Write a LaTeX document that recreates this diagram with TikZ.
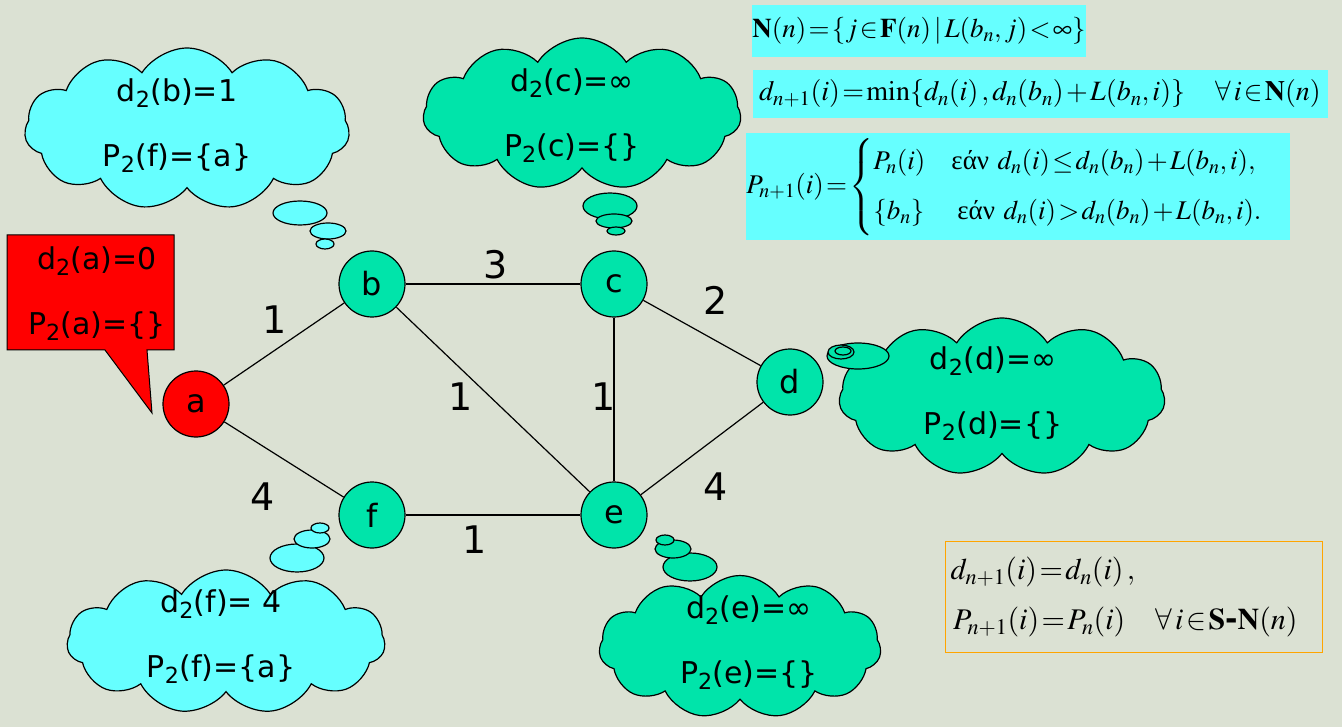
\documentclass[tikz,border=0pt]{standalone}
\usepackage{amsmath}
\usepackage{mathptmx}
\usepackage{fontspec}
\setmainfont{DejaVu Sans}
\newfontfamily\grk{Liberation Serif}
\usetikzlibrary{shapes.symbols}
\definecolor{bgc}{RGB}{219,225,211}
\definecolor{cyanc}{RGB}{102,255,255}
\definecolor{greenc}{RGB}{0,228,170}
\definecolor{redc}{RGB}{255,0,0}
\definecolor{orangec}{RGB}{255,165,0}
\newcommand{\tightmath}{\thickmuskip=1.5mu plus 1mu\medmuskip=1.5mu\thinmuskip=2mu}
\tikzset{
  vertex/.style={circle,draw=black,line width=1.2pt,minimum size=66pt,inner sep=0pt,font=\fontsize{32}{36}\selectfont},
  edge/.style={line width=1.2pt},
  weight/.style={font=\fontsize{38}{40}\selectfont,inner sep=0pt},
  thought/.style={cloud,cloud puffs=11,cloud puff arc=115,draw=black,line width=1.2pt,inner sep=0pt},
  bubble/.style={draw=black,line width=1.2pt},
  info/.style={align=center,font=\fontsize{30}{65}\selectfont,inner sep=0pt},
  formula/.style={fill=cyanc,inner sep=0pt},
}
\newcommand{\ean}{\mbox{\grk εάν}}
\begin{document}
\begin{tikzpicture}[x=1pt,y=-1pt]
\useasboundingbox[fill=bgc] (0,0) rectangle (1342,727);

% graph
\node[vertex,fill=redc]   (a) at (196,404) {a};
\node[vertex,fill=greenc] (b) at (372,284) {b};
\node[vertex,fill=greenc] (c) at (614,284) {c};
\node[vertex,fill=greenc] (d) at (790,382) {d};
\node[vertex,fill=greenc] (e) at (614,515) {e};
\node[vertex,fill=greenc] (f) at (372,515) {f};
\draw[edge] (a) -- (b);
\draw[edge] (a) -- (f);
\draw[edge] (b) -- (c);
\draw[edge] (b) -- (e);
\draw[edge] (c) -- (e);
\draw[edge] (c) -- (d);
\draw[edge] (d) -- (e);
\draw[edge] (f) -- (e);
\node[weight] (wab) at (275,320) {1};
\node[weight] (waf) at (263,497) {4};
\node[weight] (wbc) at (496,265) {3};
\node[weight] (wbe) at (461,397) {1};
\node[weight] (wce) at (604,397) {1};
\node[weight] (wcd) at (716,300) {2};
\node[weight] (wde) at (716,487) {4};
\node[weight] (wfe) at (475,540) {1};

% callout of a
\draw[fill=redc,line width=1pt] (7,235) -- (174,235) -- (174,350) -- (147,350) -- (152,413) -- (105,350) -- (7,350) -- cycle;
\node[info] (ta) at (97,294) {d\textsubscript{2}(a)=0\\P\textsubscript{2}(a)=\{\}};

% thought of b
\node[thought,fill=cyanc,minimum width=325pt,minimum height=162pt] (cb) at (187,129) {};
\draw[bubble,fill=cyanc] (300,213) ellipse [x radius=27,y radius=12];
\draw[bubble,fill=cyanc] (328,231) ellipse [x radius=18,y radius=8];
\draw[bubble,fill=cyanc] (325,244) ellipse [x radius=9,y radius=5];
\node[info] (tb) at (177,126) {d\textsubscript{2}(b)=1\\P\textsubscript{2}(f)=\{a\}};

% thought of c
\node[thought,fill=greenc,minimum width=318pt,minimum height=152pt] (cc) at (582,114) {};
\draw[bubble,fill=greenc] (610,206) ellipse [x radius=27,y radius=13];
\draw[bubble,fill=greenc] (614,221) ellipse [x radius=18,y radius=7];
\draw[bubble,fill=greenc] (616,231) ellipse [x radius=9,y radius=4];
\node[info] (tc) at (572,116) {d\textsubscript{2}(c)=∞\\P\textsubscript{2}(c)=\{\}};

% thought of d
\node[thought,fill=greenc,minimum width=326pt,minimum height=158pt] (cd) at (1002,397) {};
\draw[bubble,fill=greenc] (858,356) ellipse [x radius=31,y radius=13];
\draw[bubble,fill=greenc] (841,352) ellipse [x radius=13,y radius=7];
\draw[bubble,fill=greenc] (843,351) ellipse [x radius=8,y radius=4];
\node[info] (td) at (993,394) {d\textsubscript{2}(d)=∞\\P\textsubscript{2}(d)=\{\}};

% thought of e
\node[thought,fill=greenc,minimum width=282pt,minimum height=143pt] (ce) at (740,647) {};
\draw[bubble,fill=greenc] (690,567) ellipse [x radius=27,y radius=14];
\draw[bubble,fill=greenc] (673,549) ellipse [x radius=18,y radius=9];
\draw[bubble,fill=greenc] (665,540) ellipse [x radius=9,y radius=5];
\node[info] (te) at (749,643) {d\textsubscript{2}(e)=∞\\P\textsubscript{2}(e)=\{\}};

% thought of f
\node[thought,fill=cyanc,minimum width=318pt,minimum height=144pt] (cf) at (226,642) {};
\draw[bubble,fill=cyanc] (297,558) ellipse [x radius=27,y radius=14];
\draw[bubble,fill=cyanc] (312,539) ellipse [x radius=18,y radius=9];
\draw[bubble,fill=cyanc] (320,528) ellipse [x radius=9,y radius=5];
\node[info] (tf) at (221,637) {d\textsubscript{2}(f)= 4\\P\textsubscript{2}(f)=\{a\}};

% update rules
\node[formula,minimum width=324pt,minimum height=52pt,font=\fontsize{27}{32}\selectfont\tightmath] (f1) at (919,31)
  {$\mathbf{N}(n)=\{j\in\mathbf{F}(n)\,|\,L(b_n,j)<\infty\}$};
\node[formula,minimum width=575pt,minimum height=48pt,font=\fontsize{28}{32}\selectfont\tightmath] (f2) at (1040,94)
  {$d_{n+1}(i)=\min\{d_n(i)\,,d_n(b_n)+L(b_n,i)\}\hspace{30pt}\forall\, i\in\mathbf{N}(n)$};
\node[formula,minimum width=539pt,minimum height=107pt,font=\fontsize{27}{32}\selectfont\tightmath] (f3) at (1018,187)
  {$P_{n+1}(i)=\begin{cases}P_n(i) \hspace{26pt} \ean\ d_n(i)\le d_n(b_n)+L(b_n,i),\\[12pt] \{b_n\} \hspace{33pt} \ean\ d_n(i)>d_n(b_n)+L(b_n,i).\end{cases}$};
\node[draw=orangec,line width=1.2pt,text width=367pt,minimum height=111pt,inner sep=5pt,align=left,font=\fontsize{30}{50}\selectfont\tightmath] (f4) at (1134,597)
  {$d_{n+1}(i)=d_n(i)\,,$\\ $\;P_{n+1}(i)=P_n(i)\hspace{30pt}\forall\, i\in\mathbf{S}\textbf{-}\mathbf{N}(n)$};
\end{tikzpicture}
\end{document}
